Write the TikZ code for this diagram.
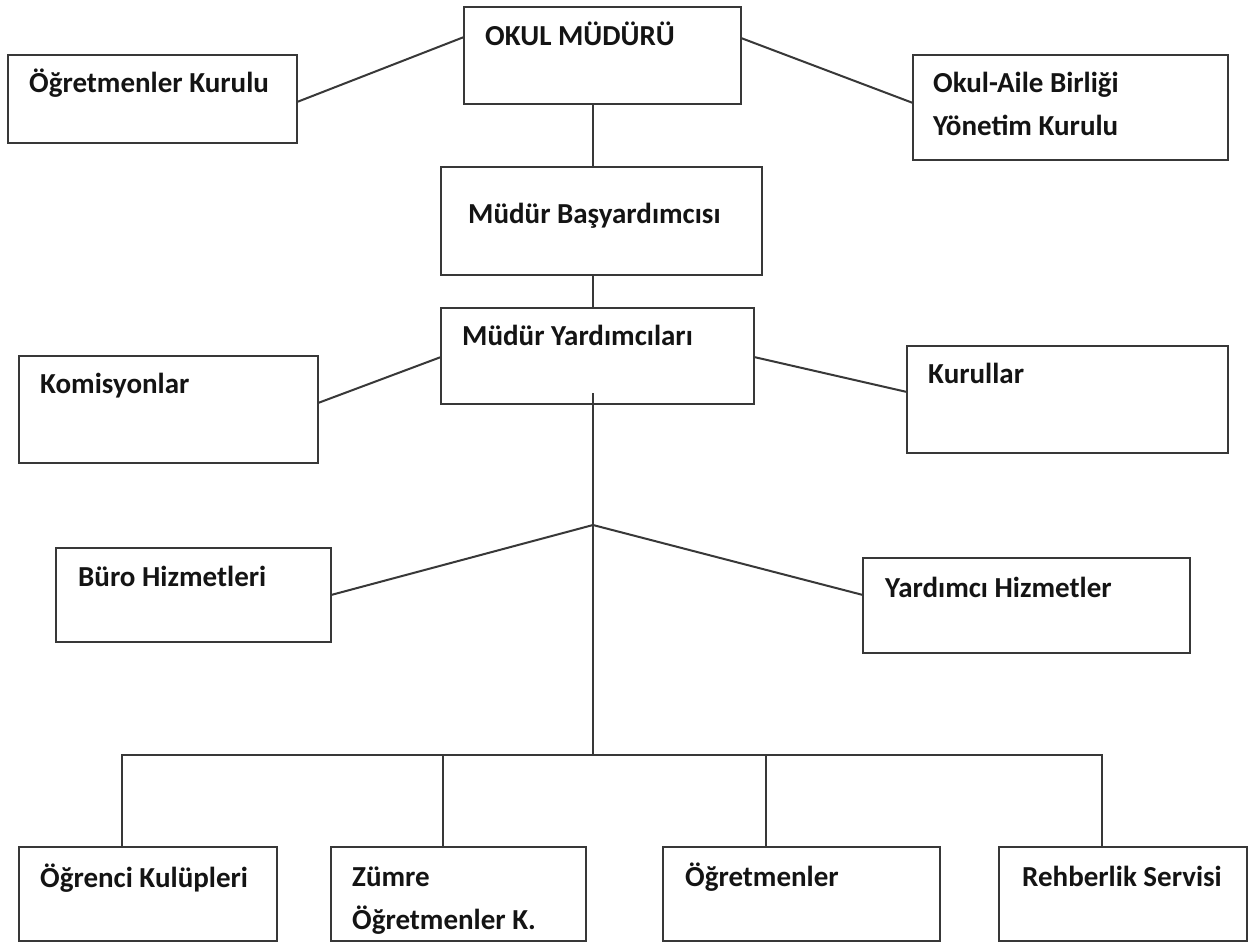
\documentclass[tikz,border=0pt]{standalone}
\usepackage{fontspec}
\setmainfont{Carlito}
\begin{document}
\begin{tikzpicture}[x=1pt,y=-1pt,
  box/.style={draw=black!78,line width=2.2pt,anchor=north west,inner sep=0pt,outer sep=0pt},
  lbl/.style={anchor=base west,inner sep=0pt,text=black!92,font=\fontsize{29}{43}\selectfont\bfseries,align=left},
  link/.style={draw=black!78,line width=2pt}]
\useasboundingbox (0,0) rectangle (1251,943);
\fill[white] (0,0) rectangle (1251,943);
% boxes
\node[box,minimum width=277pt,minimum height=97pt]  (om) at (464,7) {};
\node[box,minimum width=289pt,minimum height=88pt]  (ok) at (8,55) {};
\node[box,minimum width=315pt,minimum height=105pt] (oa) at (913,55) {};
\node[box,minimum width=321pt,minimum height=108pt] (mb) at (441,167) {};
\node[box,minimum width=313pt,minimum height=96pt]  (my) at (441,308) {};
\node[box,minimum width=299pt,minimum height=107pt] (ko) at (19,356) {};
\node[box,minimum width=321pt,minimum height=107pt] (ku) at (907,346) {};
\node[box,minimum width=275pt,minimum height=94pt]  (bh) at (56,548) {};
\node[box,minimum width=327pt,minimum height=95pt]  (yh) at (863,558) {};
\node[box,minimum width=258pt,minimum height=94pt]  (og) at (19,847) {};
\node[box,minimum width=255pt,minimum height=94pt]  (zo) at (331,847) {};
\node[box,minimum width=277pt,minimum height=94pt]  (ot) at (663,847) {};
\node[box,minimum width=248pt,minimum height=94pt]  (re) at (999,847) {};
% texts (base west = baseline of the last line)
\node[lbl] (t-om) at (485,45) {OKUL MÜDÜRÜ};
\node[lbl] (t-ok) at (29,92) {Öğretmenler Kurulu};
\node[lbl] (t-oa) at (933,135) {Okul-Aile Birliği\\Yönetim Kurulu};
\node[lbl] (t-mb) at (468,223) {Müdür Başyardımcısı};
\node[lbl] (t-my) at (462,345) {Müdür Yardımcıları};
\node[lbl] (t-ko) at (40,393) {Komisyonlar};
\node[lbl] (t-ku) at (928,383) {Kurullar};
\node[lbl] (t-bh) at (78,586) {Büro Hizmetleri};
\node[lbl] (t-yh) at (885,597) {Yardımcı Hizmetler};
\node[lbl] (t-og) at (40,887) {Öğrenci Kulüpleri};
\node[lbl] (t-zo) at (352,929) {Zümre\\Öğretmenler K.};
\node[lbl] (t-ot) at (685,886) {Öğretmenler};
\node[lbl] (t-re) at (1022,886) {Rehberlik Servisi};
% helper coordinates
\coordinate (sp) at (593,0);
\coordinate (apex) at (593,525);
\coordinate (bus) at (0,755);
% connectors
\draw[link] ([yshift=-47pt]ok.north east) -- ([yshift=-30pt]om.north west);
\draw[link] ([yshift=-31pt]om.north east) -- ([yshift=-48pt]oa.north west);
\draw[link] (om.south -| sp) -- (mb.north -| sp);
\draw[link] (mb.south -| sp) -- (my.north -| sp);
\draw[link] ([yshift=11pt]my.south -| sp) -- (bus -| sp);
\draw[link] ([yshift=-47pt]ko.north east) -- ([yshift=-49pt]my.north west);
\draw[link] ([yshift=-49pt]my.north east) -- ([yshift=-46pt]ku.north west);
\draw[link] ([yshift=-47pt]bh.north east) -- (apex) -- ([yshift=-37pt]yh.north west);
\draw[link] ([xshift=103pt]og.north west) |- ([xshift=103pt]re.north west |- bus) -- ([xshift=103pt]re.north west);
\draw[link] ([xshift=112pt]zo.north west) -- ([xshift=112pt]zo.north west |- bus);
\draw[link] ([xshift=103pt]ot.north west) -- ([xshift=103pt]ot.north west |- bus);
\end{tikzpicture}
\end{document}
